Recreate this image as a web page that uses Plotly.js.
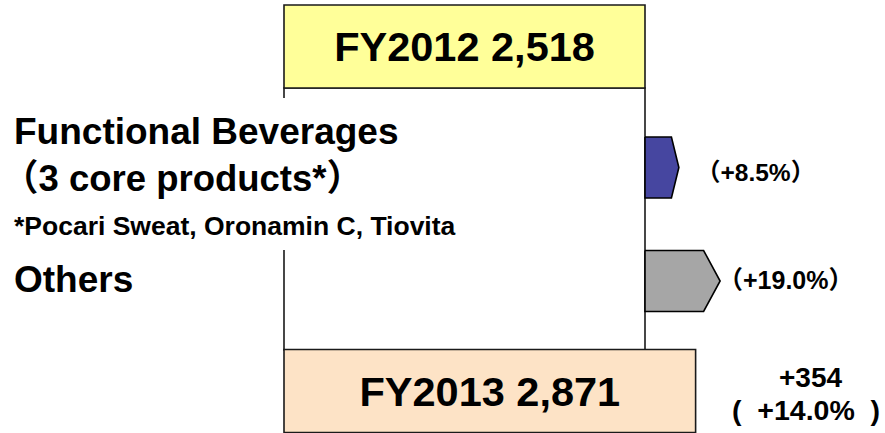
<!DOCTYPE html>
<html>
<head>
<meta charset="utf-8">
<script src="https://cdn.plot.ly/plotly-3.0.1.min.js"></script>
<style>html,body{margin:0;padding:0;background:#fff;}#chart{width:885px;height:433px;}</style>
</head>
<body>
<div id="chart"></div>
<script>
// ---- data ----
const totalLabels = ['FY2012', 'FY2013'];
const totalValues = [2518, 2871];
const segmentLabels = ['Functional Beverages', 'Others'];
const segmentSubLabel = '（3 core products*）';
const segmentNote = '*Pocari Sweat, Oronamin C, Tiovita';
const segmentIncrease = [110, 244];
const segmentGrowthPct = [8.5, 19.0];
const totalChange = 354;
const totalChangePct = 14.0;

// ---- layout constants ----
const W = 885, H = 433;
const X_ZERO_PX = 284, X_END_PX = 645;        // pixel span of FY2012 box
const ARROW_SCALE = 109 / 354;                // px per unit for segment arrows
const ROW_Y = [46.5, 167.5, 281, 391];        // row centres (px, top-down)
const BOX_H = 83, ARROW_H = 61, TIP = 0.22;
const FONT = 'Liberation Sans, Arial, Noto Sans CJK JP, sans-serif';
const NB = '\u00a0';

const s1 = (X_END_PX - X_ZERO_PX) / totalValues[0];
const x1Range = [-X_ZERO_PX / s1, (W - X_ZERO_PX) / s1];
const f = s1 / ARROW_SCALE;
const x2Range = [(x1Range[0] - totalValues[0]) * f, (x1Range[1] - totalValues[0]) * f];

const fmt = v => v.toLocaleString('en-US');

const traces = [];
// total boxes
traces.push({
  type: 'bar', orientation: 'h',
  x: totalValues, y: [ROW_Y[0], ROW_Y[3]],
  width: BOX_H,
  marker: { color: ['#FFFF99', '#FDE3C6'], line: { color: '#1a1a1a', width: 1.6 } },
  text: totalLabels.map((l, i) => l + ' ' + fmt(totalValues[i])),
  textposition: 'inside', insidetextanchor: 'middle', textangle: 0,
  textfont: { family: FONT, size: 41.5, color: '#000', weight: 'bold' },
  constraintext: 'none', cliponaxis: false,
  hoverinfo: 'skip', showlegend: false
});
// segment arrows
const arrowColors = ['#4646A0', '#A6A6A6'];
segmentIncrease.forEach((v, i) => {
  const yc = ROW_Y[i + 1], h = ARROW_H / 2, b = v * (1 - TIP);
  traces.push({
    type: 'scatter', mode: 'lines', xaxis: 'x2', yaxis: 'y',
    x: [0, b, v, b, 0, 0],
    y: [yc - h, yc - h, yc, yc + h, yc + h, yc - h],
    fill: 'toself', fillcolor: arrowColors[i],
    line: { color: '#000', width: 1.6 },
    hoverinfo: 'skip', showlegend: false
  });
});

const annotations = [
  { text: segmentLabels[0], x: 12 / W, y: 131, size: 37 },
  { text: segmentSubLabel, x: 0 / W, y: 178, size: 36.5 },
  { text: segmentNote, x: 12 / W, y: 226, size: 26.5 },
  { text: segmentLabels[1], x: 12 / W, y: 279, size: 37 },
].map(a => ({
  text: a.text, xref: 'paper', x: a.x, xanchor: 'left', yref: 'y', y: a.y, yanchor: 'middle',
  showarrow: false, font: { family: FONT, size: a.size, color: '#000', weight: 'bold' }
}));
annotations.push(
  { text: '（+' + segmentGrowthPct[0].toFixed(1) + '%）', xref: 'paper', x: 694 / W, xanchor: 'left',
    yref: 'y', y: 172, yanchor: 'middle', showarrow: false,
    font: { family: FONT, size: 24.5, color: '#000', weight: 'bold' } },
  { text: '（+' + segmentGrowthPct[1].toFixed(1) + '%）', xref: 'paper', x: 716 / W, xanchor: 'left',
    yref: 'y', y: 280, yanchor: 'middle', showarrow: false,
    font: { family: FONT, size: 25, color: '#000', weight: 'bold' } },
  { text: '+' + totalChange, xref: 'paper', x: 810 / W, xanchor: 'center',
    yref: 'y', y: 377, yanchor: 'middle', showarrow: false,
    font: { family: FONT, size: 28, color: '#000', weight: 'bold' } },
  { text: '(' + NB + NB + '+' + totalChangePct.toFixed(1) + '%' + NB + NB + ')', xref: 'paper', x: 806 / W, xanchor: 'center',
    yref: 'y', y: 410, yanchor: 'middle', showarrow: false, borderpad: 0,
    font: { family: FONT, size: 28.5, color: '#000', weight: 'bold' } }
);

const shapes = [
  // frame carrying FY2012 level down to FY2013
  { type: 'rect', xref: 'x', yref: 'y', layer: 'below',
    x0: 0, x1: totalValues[0], y0: ROW_Y[0] + BOX_H / 2, y1: ROW_Y[3] - BOX_H / 2 + 0.5,
    fillcolor: '#fff', line: { color: '#1a1a1a', width: 1.6 } },
  // white text-box background hiding part of the left edge
  { type: 'rect', xref: 'paper', yref: 'y', layer: 'above',
    x0: 276 / W, x1: 294 / W, y0: 98, y1: 250, fillcolor: '#fff', line: { width: 0 } }
];

const layout = {
  width: W, height: H,
  margin: { l: 0, r: 0, t: 0, b: 0, pad: 0 },
  paper_bgcolor: '#fff', plot_bgcolor: '#fff',
  xaxis: { range: x1Range, visible: false, fixedrange: true },
  xaxis2: { range: x2Range, overlaying: 'x', visible: false, fixedrange: true },
  yaxis: { range: [H, 0], visible: false, fixedrange: true },
  bargap: 0,
  showlegend: false,
  annotations, shapes
};

Plotly.newPlot('chart', traces, layout, { displayModeBar: false, staticPlot: true });
</script>
</body>
</html>
